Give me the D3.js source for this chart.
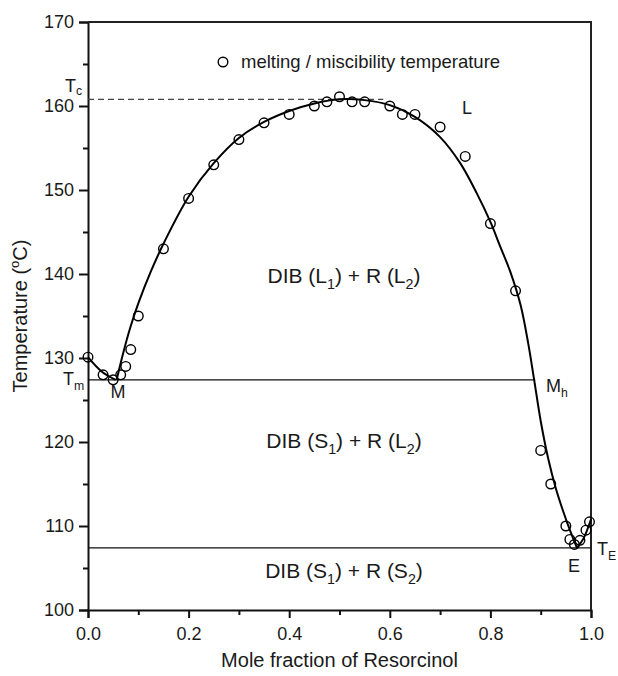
<!DOCTYPE html>
<meta charset="utf-8">
<style>
body { margin: 0; background: #fff; }
svg text { font-family: "Liberation Sans", Arial, sans-serif; fill: #1a1a1a; }
.axis path, .axis line { stroke: #111; }
.axis text { font-size: 18px; fill: #1a1a1a; }
</style>
<body>
<script src="https://d3js.org/d3.v7.min.js"></script>
<script>

// measured points (mole fraction, temperature)
var ptX = [0, 0.03, 0.05, 0.065, 0.075, 0.085, 0.1, 0.15, 0.2, 0.25, 0.3, 0.35, 0.4, 0.45, 0.475, 0.5,
           0.525, 0.55, 0.6, 0.625, 0.65, 0.7, 0.75, 0.8, 0.85, 0.9, 0.92, 0.95, 0.958, 0.967, 0.978, 0.99, 0.997];
var ptT = [130.1, 128, 127.4, 128, 129, 131, 135, 143, 149, 153, 156, 158, 159, 160, 160.5, 161.1,
           160.5, 160.5, 160, 159, 159, 157.5, 154, 146, 138, 119, 115, 110, 108.4, 107.8, 108.3, 109.5, 110.5];

// fitted curves
var mainBranch = [[0.057, 127.4], [0.07, 130.6], [0.085, 133.8], [0.1, 136.5], [0.125, 140.3], [0.15, 143.6],
                  [0.2, 149.2], [0.25, 153.2], [0.3, 156.2], [0.35, 158.1], [0.4, 159.4], [0.45, 160.3],
                  [0.5, 160.8], [0.55, 160.7], [0.6, 160.1], [0.65, 158.7], [0.7, 156.3], [0.74, 153.2],
                  [0.773, 149.6], [0.8, 146.2], [0.82, 143.2], [0.84, 140.2], [0.86, 136.3], [0.875, 131.8],
                  [0.887, 127.4], [0.9, 122.5], [0.915, 118], [0.93, 114.5], [0.945, 111.7], [0.96, 109.2],
                  [0.972, 107.4]];
var leftBranch = [[0, 130.1], [0.027, 128.4], [0.055, 127.4]];
var rightBranch = [[0.972, 107.4], [0.985, 108.5], [1.0, 110.8]];

// special temperatures
var Tc = 160.8, Tm = 127.4, TE = 107.4;
var tcEnd = 0.587, mhX = 0.889;

var xMajor = [0, 0.2, 0.4, 0.6, 0.8, 1.0];
var xMinor = [0.1, 0.3, 0.5, 0.7, 0.9];
var yMajor = [100, 110, 120, 130, 140, 150, 160, 170];
var yMinor = [105, 115, 125, 135, 145, 155, 165];

var W = 618, H = 676;
var margin = {top: 22, left: 88, right: 27, bottom: 66};
var x = d3.scaleLinear().domain([0, 1]).range([margin.left, W - margin.right]);
var y = d3.scaleLinear().domain([100, 170]).range([H - margin.bottom, margin.top]);

var svg = d3.select("body").append("svg").attr("width", W).attr("height", H);

// axes
svg.append("g").attr("class", "axis")
    .attr("transform", "translate(0," + y(100) + ")")
    .call(d3.axisBottom(x).tickValues(xMajor).tickFormat(d3.format(".1f")).tickSize(8).tickPadding(9))
    .call(function(g) { g.selectAll("path,line").attr("stroke-width", 2); });
svg.append("g").attr("class", "axis")
    .attr("transform", "translate(0," + y(100) + ")")
    .call(d3.axisBottom(x).tickValues(xMinor).tickFormat("").tickSize(5))
    .call(function(g) { g.select("path").remove(); g.selectAll("text").remove(); g.selectAll("line").attr("stroke-width", 2); });
svg.append("g").attr("class", "axis")
    .attr("transform", "translate(" + x(0) + ",0)")
    .call(d3.axisLeft(y).tickValues(yMajor).tickSize(9).tickPadding(5))
    .call(function(g) { g.selectAll("path,line").attr("stroke-width", 2); });
svg.append("g").attr("class", "axis")
    .attr("transform", "translate(" + x(0) + ",0)")
    .call(d3.axisLeft(y).tickValues(yMinor).tickFormat("").tickSize(5))
    .call(function(g) { g.select("path").remove(); g.selectAll("text").remove(); g.selectAll("line").attr("stroke-width", 2); });

// top and right frame
svg.append("path")
    .attr("d", "M" + x(0) + "," + y(170) + "H" + x(1) + "V" + y(100))
    .attr("fill", "none").attr("stroke", "#222").attr("stroke-width", 2);

// reference lines
svg.append("line").attr("x1", x(0)).attr("x2", x(tcEnd)).attr("y1", y(Tc)).attr("y2", y(Tc))
    .attr("stroke", "#444").attr("stroke-width", 1.2).attr("stroke-dasharray", "6,4");
svg.append("line").attr("x1", x(0)).attr("x2", x(mhX)).attr("y1", y(Tm)).attr("y2", y(Tm))
    .attr("stroke", "#111").attr("stroke-width", 1.3);
svg.append("line").attr("x1", x(0)).attr("x2", x(1)).attr("y1", y(TE)).attr("y2", y(TE))
    .attr("stroke", "#111").attr("stroke-width", 1.3);

// curves
var line = d3.line()
    .x(function(d) { return x(d[0]); })
    .y(function(d) { return y(d[1]); })
    .curve(d3.curveCatmullRom.alpha(0.5));
[mainBranch, leftBranch, rightBranch].forEach(function(c) {
  svg.append("path").datum(c).attr("d", line)
      .attr("fill", "none").attr("stroke", "#000").attr("stroke-width", 2);
});

// points
svg.append("g").selectAll("circle").data(ptX).enter().append("circle")
    .attr("cx", function(d) { return x(d); })
    .attr("cy", function(d, i) { return y(ptT[i]); })
    .attr("r", 4.8)
    .attr("fill", "none").attr("stroke", "#000").attr("stroke-width", 1.4);

// legend
svg.append("circle").attr("cx", 223).attr("cy", 62).attr("r", 4.8)
    .attr("fill", "none").attr("stroke", "#000").attr("stroke-width", 1.4);
svg.append("text").attr("x", 241).attr("y", 68).attr("font-size", 18.5)
    .text("melting / miscibility temperature");

// text with subscripts: parts = [[str, isSub], ...]
function label(px, py, parts, size, anchor, shift) {
  var s = shift == null ? size * 0.28 : shift;
  var t = svg.append("text").attr("x", px).attr("y", py)
      .attr("font-size", size).attr("text-anchor", anchor || "start");
  var back = 0;
  parts.forEach(function(p) {
    if (p[1]) {
      t.append("tspan").attr("font-size", size * 0.68).attr("dy", s).text(p[0]);
      back = -s;
    } else {
      t.append("tspan").attr("dy", back).text(p[0]);
      back = 0;
    }
  });
  return t;
}

label(344, 283, [["DIB (L", 0], ["1", 1], [") + R (L", 0], ["2", 1], [")", 0]], 21, "middle");
label(344, 448, [["DIB (S", 0], ["1", 1], [") + R (L", 0], ["2", 1], [")", 0]], 21, "middle");
label(344, 578, [["DIB (S", 0], ["1", 1], [") + R (S", 0], ["2", 1], [")", 0]], 21, "middle");

label(65, 92, [["T", 0], ["c", 1]], 18, "start", 3);
label(63, 385, [["T", 0], ["m", 1]], 18);
label(597, 555, [["T", 0], ["E", 1]], 18);
label(546, 392, [["M", 0], ["h", 1]], 18);
svg.append("text").attr("x", 118).attr("y", 398).attr("font-size", 18).attr("text-anchor", "middle").text("M");
svg.append("text").attr("x", 574).attr("y", 572).attr("font-size", 18).attr("text-anchor", "middle").text("E");
svg.append("text").attr("x", 462).attr("y", 114).attr("font-size", 18).text("L");

// axis titles
svg.append("text").attr("x", (x(0) + x(1)) / 2).attr("y", 667)
    .attr("font-size", 20).attr("text-anchor", "middle").text("Mole fraction of Resorcinol");
var yt = svg.append("text").attr("transform", "translate(27," + (y(100) + y(170)) / 2 + ") rotate(-90)")
    .attr("font-size", 20).attr("text-anchor", "middle");
yt.append("tspan").text("Temperature (");
yt.append("tspan").attr("font-size", 13).attr("dy", -8).text("o");
yt.append("tspan").attr("dy", 8).text("C)");

</script>
</body>
